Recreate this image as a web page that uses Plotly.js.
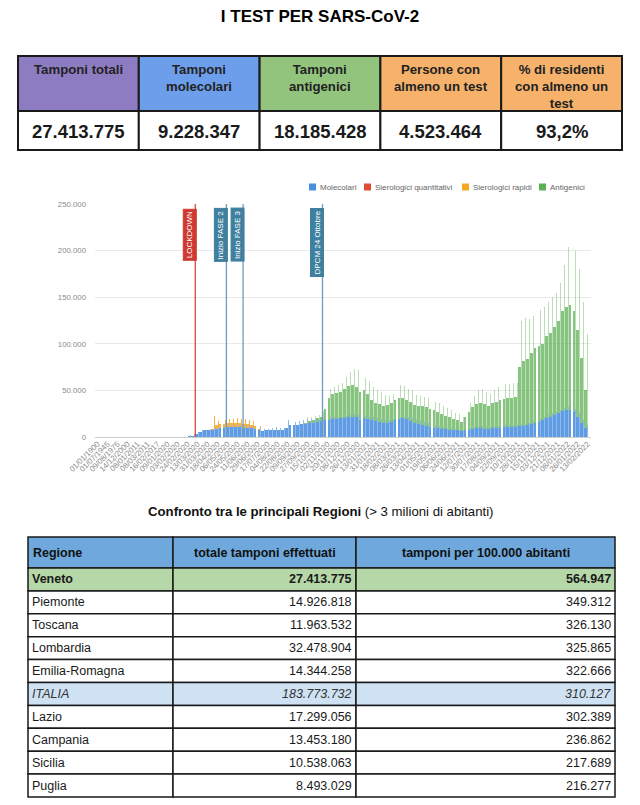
<!DOCTYPE html>
<html><head><meta charset="utf-8">
<script src="https://cdn.plot.ly/plotly-3.0.1.min.js"></script>
<style>html,body{margin:0;padding:0;background:#fff}#chart{width:640px;height:805px}</style>
</head><body><div id="chart"></div>
<script>
// ---------- KPI table ----------
const kpiLabels = ["Tamponi totali","Tamponi<br>molecolari","Tamponi<br>antigenici","Persone con<br>almeno un test","% di residenti<br>con almeno un<br>test"];
const kpiValues = ["27.413.775","9.228.347","18.185.428","4.523.464","93,2%"];
const kpiColors = ["#8e7cc3","#6d9eeb","#93c47d","#f6b26b","#f6b26b"];

// ---------- Regions table ----------
const regHeader = ["Regione","totale tamponi effettuati","tamponi per 100.000 abitanti"];
const regions = ["Veneto","Piemonte","Toscana","Lombardia","Emilia-Romagna","ITALIA","Lazio","Campania","Sicilia","Puglia"];
const totTamponi = ["27.413.775","14.926.818","11.963.532","32.478.904","14.344.258","183.773.732","17.299.056","13.453.180","10.538.063","8.493.029"];
const per100k = ["564.947","349.312","326.130","325.865","322.666","310.127","302.389","236.862","217.689","216.277"];

// ---------- Chart series (weekly, thousands of tests/day) ----------
const seriesNames = ["Molecolari","Sierologici quantitativi","Sierologici rapidi","Antigenici"];
const seriesColors = ["#4a8ee0","#dd4b39","#f5a623","#5cb054"];
const firstWeek = "2020-02-24";
// lo = typical day level of the week, hi = peak day of the week
const molLo = [1,1.5,3,5,7,7,8,9,10,10, 11,11,11,11,10,10,10,9,8,6, 7,8,8,8,7,10,13,13,13,14,
  14,15,15,16,17,18,18,19,19,20, 20,21,22,21,18,20,19,18,17,16, 15,15,16,18,19,20,19,17,15,14,
  13,12,11,10,10,9,9,8,7,7, 6,7,8,9,10,10,9,9,10,10, 10,11,11,11,11,12,12,13,14,15,
  16,18,20,22,24,26,28,29,29,27, 22,15,10];
const molHi = [2,3,5,7,8,9,10,11,12,13, 13,13,14,13,13,13,12,11,10,9, 9,10,11,10,10,18,17,16,17,18,
  19,19,19,19,20,21,21,21,22,22, 23,24,25,24,22,23,22,21,20,19, 18,18,19,21,22,22,21,20,18,17,
  16,15,13,12,12,11,10,10,9,8, 8,9,10,11,12,12,11,11,12,12, 12,13,13,13,13,14,14,15,17,18,
  19,21,24,26,27,29,31,32,32,30, 26,18,13];
const rapLo = [0,0,0,0,0,0,1,4,4,4, 4,4,4,4,4,4,3,3,1,0, 0,0,0,0,0,0,0,0,0,0,
  0,0,0,0,0,0,0,0,0,0, 0,0,0,0,0,0,0,0,0,0, 0,0,0,0,0,0,0,0,0,0,
  0,0,0,0,0,0,0,0,0,0, 0,0,0,0,0,0,0,0,0,0, 0,0,0,0,0,0,0,0,0,0,
  0,0,0,0,0,0,0,0,0,0, 0,0,0];
const rapHi = [0,0,0,0,0,0,13,6,6,5, 6,6,6,6,6,5,5,4,2,0, 0,0,0,0,0,0,0,0,0,0,
  0,0,0,0,0,0,0,0,0,0, 0,0,0,0,0,0,0,0,0,0, 0,0,0,0,0,0,0,0,0,0,
  0,0,0,0,0,0,0,0,0,0, 0,0,0,0,0,0,0,0,0,0, 0,0,0,0,0,0,0,0,0,0,
  0,0,0,0,0,0,0,0,0,0, 0,0,0];
const antLo = [0,0,0,0,0,0,0,0,0,0, 0,0,0,0,0,0,0,0,0,0, 0,0,0,0,0,0,0,0,0,0,
  1,2,3,4,5,12,24,27,28,28, 32,34,34,33,30,30,27,22,20,19, 18,19,20,22,23,22,21,21,19,19,
  20,20,19,19,17,16,14,13,12,11, 10,15,19,23,25,26,26,24,26,28, 30,30,31,31,32,63,70,71,76,80,
  82,82,88,90,94,99,107,111,113,108, 93,70,40];
const antHi = [0,0,0,0,0,0,0,0,0,0, 0,0,0,0,0,0,0,0,0,0, 0,0,0,0,0,0,0,0,0,0,
  2,3,4,5,8,15,31,33,34,36, 41,46,48,48,41,40,38,33,30,29, 27,26,27,31,34,33,31,30,27,27,
  27,27,27,26,24,22,21,19,17,17, 14,21,26,33,38,40,37,35,38,42, 44,44,44,45,45,111,114,112,113,115,
  117,119,121,124,128,136,154,172,171,170, 154,127,97];

// ---------- x tick labels (every 18 days, first nine are malformed dates of the source) ----------
const tickLabels = ["01/01/1900","01/07/1945","09/08/1975","14/12/2000","08/01/2011","08/03/2011","16/02/2017","09/01/2020","03/02/2020",
  "24/02/2020","13/03/2020","31/03/2020","18/04/2020","06/05/2020","24/05/2020","11/06/2020","29/06/2020","17/07/2020","04/08/2020",
  "22/08/2020","09/09/2020","27/09/2020","15/10/2020","02/11/2020","20/11/2020","08/12/2020","26/12/2020","13/01/2021","31/01/2021",
  "18/02/2021","08/03/2021","26/03/2021","13/04/2021","01/05/2021","19/05/2021","06/06/2021","24/06/2021","12/07/2021","30/07/2021",
  "17/08/2021","04/09/2021","22/09/2021","10/10/2021","28/10/2021","15/11/2021","03/12/2021","21/12/2021","08/01/2022","26/01/2022","13/02/2022"];

// ---------- events ----------
const eventDates = ["2020-03-09","2020-05-04","2020-06-03","2020-10-24"];
const eventLabels = ["LOCKDOWN","Inizio FASE 2","Inizio FASE 3","DPCM 24 Ottobre"];
const eventColors = ["#cf3a30","#3f809f","#3f809f","#3f809f"];
const eventLineColors = ["#d9483c","#6e9dbb","#6e9dbb","#6e9dbb"];

// ---------- build ----------
const DAY = 864e5, K = 1000;
const iso = ms => new Date(ms).toISOString().slice(0,16).replace('T',' ');
const t0 = Date.parse(firstWeek + "T00:00:00Z");
const xs = [], widths = [], mol = [], rap = [], ant = [], opMol = [], opAnt = [];
for (let i = 0; i < molLo.length; i++) {
  const ws = t0 + i*7*DAY;
  xs.push(iso(ws + 2.6*DAY)); widths.push(5*DAY);
  mol.push(molLo[i]*K); rap.push(rapLo[i]*K); ant.push(antLo[i]*K); opMol.push(0.88); opAnt.push(0.74);
  xs.push(iso(ws + 6*DAY)); widths.push(1.6*DAY);
  mol.push(molHi[i]*K); rap.push(rapHi[i]*K); ant.push(antHi[i]*K); opMol.push(0.62); opAnt.push(0.42);
}
const tickVals = tickLabels.map((_, j) => iso(t0 + (j-9)*18*DAY));

const W = 640, H = 805;
const px = v => v / W, py = v => 1 - v / H;
const SANS = "Liberation Sans, Arial, Helvetica, sans-serif";

const traces = [
  {type:'bar', name:seriesNames[0], x:xs, y:mol, width:widths, marker:{color:seriesColors[0], opacity:opMol, line:{width:0}}, hoverinfo:'skip'},
  {type:'bar', name:seriesNames[1], x:[], y:[], marker:{color:seriesColors[1]}},
  {type:'bar', name:seriesNames[2], x:xs, y:rap, width:widths, marker:{color:seriesColors[2], opacity:0.85, line:{width:0}}, hoverinfo:'skip'},
  {type:'bar', name:seriesNames[3], x:xs, y:ant, width:widths, marker:{color:seriesColors[3], opacity:opAnt, line:{width:0}}, hoverinfo:'skip'}
];

const shapes = [], annotations = [];
const cell = (x0, x1, y0, y1, fill, lw) => shapes.push({type:'rect', xref:'paper', yref:'paper',
  x0:px(x0), x1:px(x1), y0:py(y1), y1:py(y0), fillcolor:fill, line:{color:'#1a1a1a', width:lw}, layer:'below'});
const txt = (x, y, text, size, xa, ya, color, extra) => annotations.push(Object.assign({xref:'paper', yref:'paper',
  x:px(x), y:py(y), text:text, showarrow:false, xanchor:xa, yanchor:ya, align:'center',
  font:{family:SANS, size:size, color:color}}, extra||{}));

// KPI table
const kL = 18, kR = 622, kTop = 56, kMid = 111, kBot = 150, kW = (kR-kL)/kpiLabels.length;
kpiLabels.forEach((lab, i) => {
  const x0 = kL + i*kW, x1 = x0 + kW;
  cell(x0, x1, kTop, kMid, kpiColors[i], 2);
  cell(x0, x1, kMid, kBot, '#ffffff', 2);
  txt((x0+x1)/2, kTop+4, '<b>'+lab+'</b>', 13.2, 'center', 'top', '#222');
  txt((x0+x1)/2, (kMid+kBot)/2+0.5, '<b>'+kpiValues[i]+'</b>', 18.5, 'center', 'middle', '#1a1a1a');
});

// Regions table
const colE = [28, 173, 356, 615], rTop = 537, rHead = 568, rBot = 797, rH = (rBot - rHead)/regions.length;
regHeader.forEach((h, c) => {
  cell(colE[c], colE[c+1], rTop, rHead, '#6fa8dc', 1.5);
  if (c === 0) txt(colE[0]+3, (rTop+rHead)/2, '<b>'+h+'</b>', 12.5, 'left', 'middle', '#111');
  else txt((colE[c]+colE[c+1])/2, (rTop+rHead)/2, '<b>'+h+'</b>', 12.5, 'center', 'middle', '#111');
});
regions.forEach((r, i) => {
  const y0 = rHead + i*rH, y1 = y0 + rH, yc = (y0+y1)/2;
  const fill = i === 0 ? '#b6d7a8' : (r === 'ITALIA' ? '#cfe2f3' : '#ffffff');
  const wrap = s => i === 0 ? '<b>'+s+'</b>' : (r === 'ITALIA' ? '<i>'+s+'</i>' : s);
  for (let c = 0; c < 3; c++) cell(colE[c], colE[c+1], y0, y1, fill, 1.5);
  const col = r === 'ITALIA' ? '#333' : '#1a1a1a';
  txt(colE[0]+2, yc, wrap(r), 12.5, 'left', 'middle', col);
  txt(colE[2]-2, yc, wrap(totTamponi[i]), 12.5, 'right', 'middle', col);
  txt(colE[3]-2, yc, wrap(per100k[i]), 12.5, 'right', 'middle', col);
});

// event lines + labels
eventDates.forEach((d, i) => {
  shapes.push({type:'line', xref:'x', yref:'paper', x0:d, x1:d, y0:py(437), y1:py(204), line:{color:eventLineColors[i], width:1.3}, layer:'above'});
  annotations.push({xref:'x', yref:'paper', x:d, xshift:-5.5, y: py(204 + 5 + (eventLabels[i].length > 14 ? 34 : 26)),
    text:eventLabels[i], textangle:-90, showarrow:false, xanchor:'center', yanchor:'middle',
    bgcolor:eventColors[i], bordercolor:eventColors[i], borderpad:1.5, font:{family:SANS, size:8, color:'#ffffff'}});
});
// legend
const legX = [309, 364, 462, 539];
seriesNames.forEach((n, i) => {
  shapes.push({type:'rect', xref:'paper', yref:'paper', x0:px(legX[i]), x1:px(legX[i]+7), y0:py(190.5), y1:py(183.5), fillcolor:seriesColors[i], line:{width:0}});
  txt(legX[i]+8.5, 187, n, 8, 'left', 'middle', '#666');
});
// subtitle
txt(321, 511, '<b>Confronto tra le principali Regioni</b> (&gt; 3 milioni di abitanti)', 13.2, 'center', 'middle', '#111');

const layout = {
  width:W, height:H, margin:{l:0, r:0, t:0, b:0}, paper_bgcolor:'#fff', plot_bgcolor:'#fff',
  separators:',.', showlegend:false, barmode:'stack', bargap:0,
  font:{family:SANS},
  title:{text:'<b>I TEST PER SARS-CoV-2</b>', x:0.5, xanchor:'center', xref:'paper', y:py(16), yref:'container', yanchor:'middle',
    font:{family:SANS, size:17, color:'#000'}},
  xaxis:{type:'date', domain:[px(95), px(591)], range:['2019-09-10 12:00','2022-02-19 07:00'],
    tickmode:'array', tickvals:tickVals, ticktext:tickLabels, tickangle:-45,
    tickfont:{family:SANS, size:7.8, color:'#8a8a8a'}, showgrid:false, showline:false, ticks:'', zeroline:false},
  yaxis:{domain:[py(437), py(204)], range:[0, 250000], tickvals:[0,50000,100000,150000,200000,250000], tickformat:',d',
    gridcolor:'#e9e9e9', zeroline:true, zerolinecolor:'#cfcfcf', zerolinewidth:1, showline:false, ticks:'',
    tickfont:{family:SANS, size:7.8, color:'#8a8a8a'}, ticklabelstandoff:8},
  shapes:shapes, annotations:annotations
};
Plotly.newPlot('chart', traces, layout, {staticPlot:true, displayModeBar:false});
</script></body></html>
